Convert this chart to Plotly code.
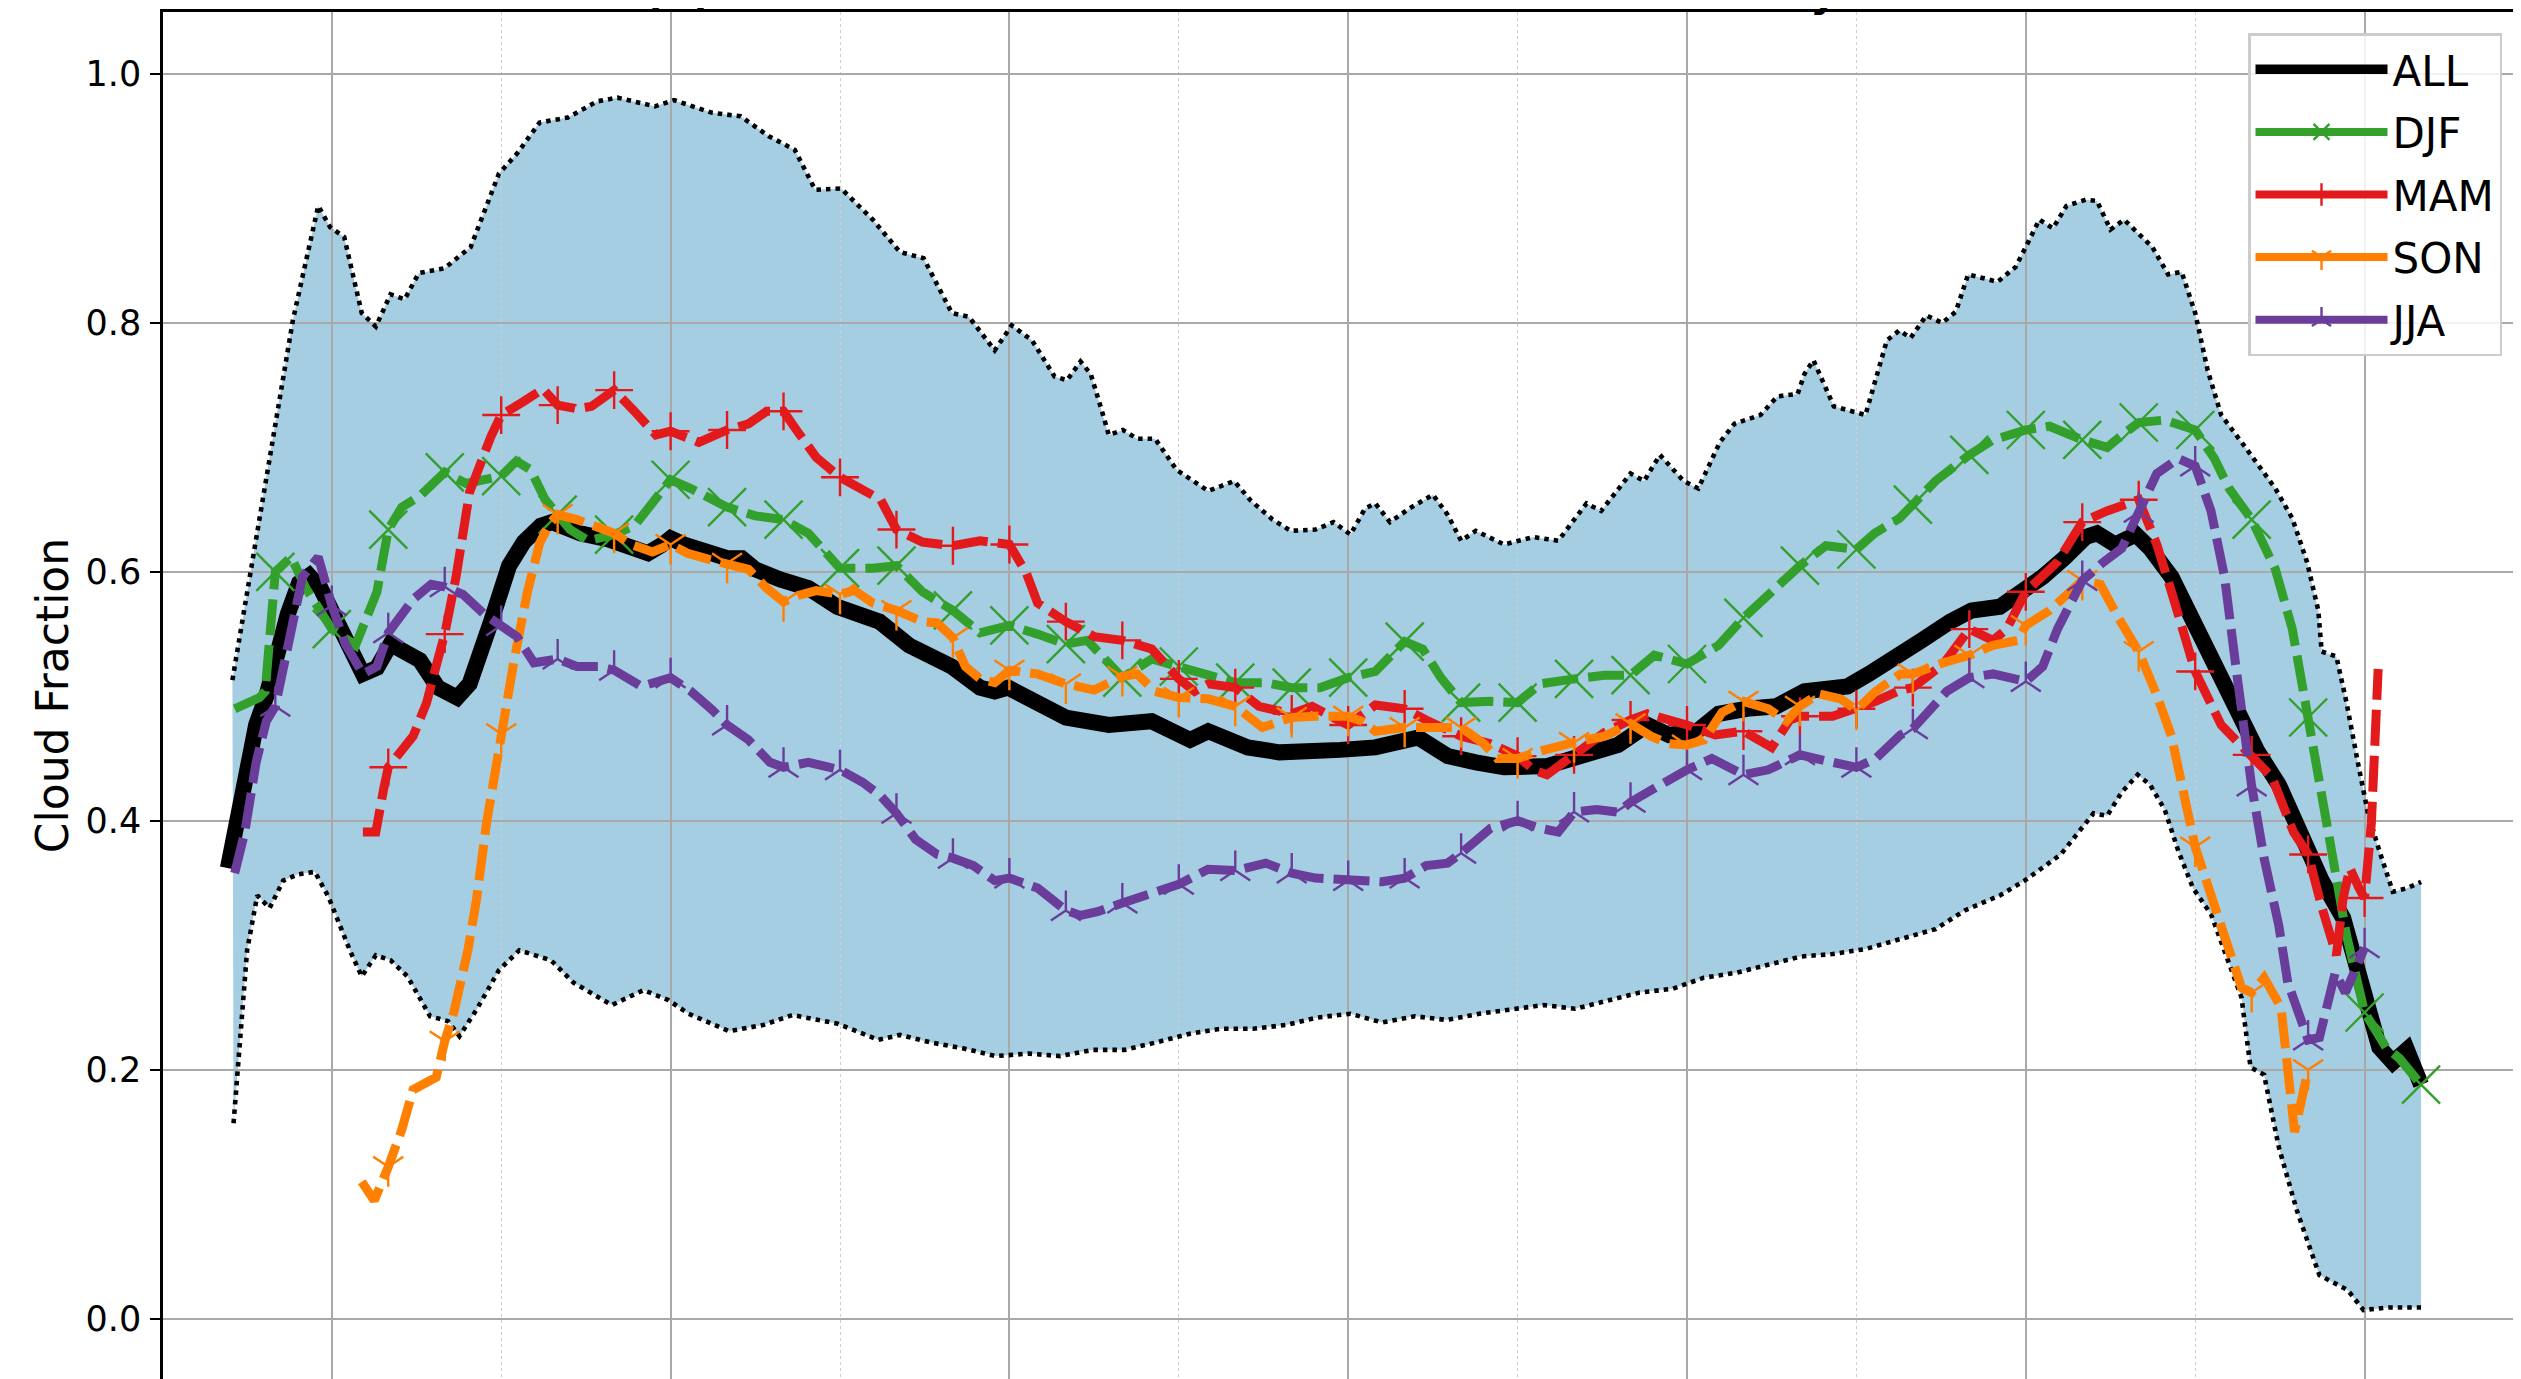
import plotly.graph_objects as go

# ---------------- data (x in axis units, y = cloud fraction) ----------------
ALL_X = [-9.2, -8.0, -6.7, -5.8, -4.8, -3.9, -2.9, -2.0, -1.0, 0.0, 1.2, 2.75, 4.0, 5.2, 7.8, 9.4, 11.1, 12.2,
         14.1, 15.7, 17.0, 18.5, 19.5, 22.0, 24.5, 26.5, 28.0, 29.3, 30.0, 31.2, 32.8, 35.0, 36.3, 37.5, 39.7,
         42.2, 44.75, 48.5, 51.1, 54.9, 57.4, 58.7, 59.9, 62.5, 65.0, 68.8, 72.6, 76.0, 77.6, 81.1, 83.9, 89.3,
         92.4, 96.2, 98.8, 101.3, 103.8, 107.6, 111.4, 113.9, 116.5, 118.4, 120.9, 122.8, 125.3, 127.9, 130.4,
         134.2, 136.1, 138.9, 140.8, 143.3, 145.2, 147.7, 149.3, 151.5, 153.4, 155.3, 156.3, 157.9, 159.75,
         161.0, 162.9, 164.8, 166.7, 168.6, 170.5, 172.4, 174.3, 176.2, 178.1, 178.9, 180.1, 181.3, 182.5,
         183.75, 185.0]
ALL_Y = [0.362, 0.426, 0.477, 0.500, 0.536, 0.566, 0.591, 0.597, 0.587, 0.569, 0.545, 0.518, 0.523, 0.542, 0.529,
         0.507, 0.499, 0.510, 0.560, 0.605, 0.624, 0.637, 0.640, 0.631, 0.626, 0.619, 0.615, 0.622, 0.627, 0.622,
         0.616, 0.611, 0.611, 0.602, 0.594, 0.587, 0.572, 0.560, 0.541, 0.524, 0.507, 0.504, 0.507, 0.496, 0.483,
         0.477, 0.480, 0.465, 0.472, 0.459, 0.455, 0.457, 0.459, 0.467, 0.452, 0.447, 0.443, 0.444, 0.456, 0.461,
         0.477, 0.469, 0.472, 0.486, 0.490, 0.492, 0.504, 0.508, 0.518, 0.532, 0.545, 0.560, 0.569, 0.572, 0.581,
         0.596, 0.611, 0.628, 0.631, 0.622, 0.630, 0.619, 0.596, 0.560, 0.524, 0.489, 0.456, 0.429, 0.391, 0.352,
         0.322, 0.298, 0.262, 0.218, 0.206, 0.216, 0.188]

DJF_X = [-8.6, -6.4, -5.9, -5.0, -3.6, -2.3, 0.0, 2.1, 4.0, 5.0, 6.2, 7.8, 10.0, 11.9, 15.0, 16.35, 17.6, 18.9,
         20.0, 21.1, 22.7, 25.0, 26.8, 28.7, 30.0, 31.8, 33.7, 35.0, 37.5, 40.0, 42.2, 45.0, 47.9, 50.0, 52.3,
         55.0, 57.4, 60.0, 62.5, 65.0, 66.9, 70.0, 72.6, 75.0, 77.6, 80.0, 82.7, 85.0, 87.5, 90.0, 92.4, 95.0,
         96.6, 98.2, 100.0, 102.6, 105.0, 107.0, 110.0, 112.7, 115.0, 117.1, 120.0, 122.8, 125.0, 127.5, 130.0,
         132.3, 135.0, 136.6, 138.8, 140.0, 142.0, 145.0, 147.1, 150.0, 152.1, 155.0, 157.2, 158.8, 160.0, 162.3,
         165.0, 166.7, 168.0, 170.0, 172.1, 173.6, 175.0, 176.2, 177.5, 178.4, 180.0, 181.9, 183.1, 185.0]
DJF_Y = [0.490, 0.499, 0.504, 0.600, 0.612, 0.587, 0.554, 0.541, 0.584, 0.634, 0.652, 0.661, 0.680, 0.671, 0.677,
         0.689, 0.682, 0.658, 0.646, 0.634, 0.625, 0.630, 0.637, 0.658, 0.674, 0.667, 0.658, 0.652, 0.645, 0.642,
         0.631, 0.603, 0.603, 0.605, 0.584, 0.569, 0.551, 0.557, 0.550, 0.542, 0.545, 0.515, 0.530, 0.524, 0.518,
         0.511, 0.511, 0.507, 0.507, 0.515, 0.520, 0.544, 0.538, 0.515, 0.495, 0.496, 0.495, 0.510, 0.514, 0.517,
         0.517, 0.533, 0.526, 0.541, 0.563, 0.584, 0.605, 0.621, 0.618, 0.631, 0.643, 0.654, 0.673, 0.694, 0.706,
         0.714, 0.717, 0.706, 0.700, 0.712, 0.720, 0.722, 0.714, 0.691, 0.667, 0.642, 0.602, 0.554, 0.483, 0.426,
         0.361, 0.308, 0.246, 0.218, 0.209, 0.188]

MAM_X = [2.75, 3.9, 4.6, 5.0, 7.2, 8.4, 9.4, 10.0, 11.0, 12.2, 14.1, 15.0, 17.0, 18.7, 20.0, 21.7, 23.0, 25.0,
         26.8, 28.7, 30.0, 32.5, 35.0, 36.9, 38.5, 40.0, 41.3, 42.9, 45.0, 47.0, 48.6, 50.0, 52.3, 55.0, 57.4,
         60.0, 61.5, 62.5, 65.0, 67.5, 70.0, 72.6, 75.0, 76.4, 77.6, 80.0, 82.1, 85.0, 86.8, 89.3, 90.0, 92.4,
         95.0, 96.9, 100.0, 102.6, 105.0, 106.4, 107.6, 110.0, 112.7, 115.0, 116.5, 120.0, 122.5, 125.0, 127.5,
         129.1, 130.0, 132.9, 135.0, 136.7, 138.9, 140.0, 142.7, 145.0, 147.1, 148.3, 150.0, 152.8, 155.0, 157.2,
         160.0, 161.6, 162.9, 165.0, 167.3, 170.0, 171.8, 173.7, 175.0, 176.2, 177.1, 177.5, 178.1, 178.7, 179.5,
         180.0, 180.6, 181.2]
MAM_Y = [0.391, 0.391, 0.426, 0.443, 0.468, 0.495, 0.530, 0.550, 0.596, 0.664, 0.709, 0.726, 0.737, 0.747, 0.734,
         0.731, 0.733, 0.746, 0.729, 0.710, 0.713, 0.704, 0.714, 0.719, 0.729, 0.729, 0.712, 0.692, 0.676, 0.667,
         0.658, 0.634, 0.624, 0.621, 0.625, 0.622, 0.599, 0.575, 0.560, 0.548, 0.545, 0.538, 0.514, 0.504, 0.510,
         0.507, 0.492, 0.486, 0.492, 0.480, 0.477, 0.493, 0.490, 0.481, 0.468, 0.462, 0.452, 0.441, 0.437, 0.453,
         0.471, 0.481, 0.486, 0.477, 0.469, 0.472, 0.459, 0.481, 0.484, 0.484, 0.490, 0.496, 0.505, 0.507, 0.526,
         0.554, 0.545, 0.554, 0.584, 0.608, 0.640, 0.649, 0.658, 0.622, 0.584, 0.520, 0.477, 0.453, 0.435, 0.391,
         0.373, 0.331, 0.305, 0.292, 0.338, 0.362, 0.346, 0.338, 0.398, 0.522]

SON_X = [2.65, 3.76, 5.0, 6.2, 7.2, 8.5, 9.25, 10.0, 10.8, 12.05, 12.8, 13.7, 15.0, 16.1, 17.3, 18.4, 19.3, 20.0,
         21.7, 23.3, 25.0, 26.5, 28.4, 30.0, 31.5, 33.4, 35.0, 36.9, 38.5, 40.0, 41.3, 42.9, 45.0, 46.3, 47.9,
         50.0, 52.3, 53.6, 55.0, 56.1, 57.4, 58.7, 60.0, 62.5, 65.0, 67.5, 70.0, 71.3, 72.9, 75.0, 77.6, 80.0,
         82.4, 85.0, 87.1, 90.0, 91.2, 92.4, 95.0, 97.2, 100.0, 102.0, 103.2, 105.0, 107.0, 110.0, 112.7, 115.0,
         116.8, 118.4, 120.0, 121.5, 123.1, 125.0, 127.2, 128.8, 130.0, 131.7, 133.6, 135.0, 136.7, 138.9, 140.0,
         142.7, 145.0, 147.1, 149.3, 150.0, 152.1, 155.0, 156.6, 158.2, 160.0, 161.6, 162.9, 165.0, 166.7, 167.7,
         169.1, 170.0, 171.1, 172.6, 173.2, 173.8, 175.0]
SON_Y = [0.110, 0.095, 0.122, 0.152, 0.184, 0.190, 0.194, 0.223, 0.246, 0.296, 0.336, 0.398, 0.470, 0.527, 0.583,
         0.623, 0.639, 0.646, 0.642, 0.637, 0.631, 0.622, 0.616, 0.622, 0.615, 0.610, 0.607, 0.602, 0.587, 0.576,
         0.581, 0.585, 0.582, 0.585, 0.575, 0.569, 0.560, 0.559, 0.547, 0.524, 0.514, 0.511, 0.521, 0.518, 0.510,
         0.505, 0.516, 0.518, 0.504, 0.499, 0.498, 0.492, 0.475, 0.483, 0.484, 0.484, 0.480, 0.472, 0.475, 0.475,
         0.475, 0.462, 0.450, 0.450, 0.456, 0.463, 0.468, 0.478, 0.468, 0.462, 0.461, 0.465, 0.487, 0.496, 0.490,
         0.480, 0.492, 0.502, 0.498, 0.489, 0.504, 0.518, 0.518, 0.527, 0.533, 0.541, 0.545, 0.557, 0.569, 0.593,
         0.590, 0.563, 0.536, 0.501, 0.468, 0.379, 0.331, 0.302, 0.266, 0.262, 0.274, 0.250, 0.194, 0.150, 0.200]

JJA_X = [-8.6, -7.7, -6.7, -5.8, -5.0, -3.9, -2.6, -1.2, 0.0, 1.2, 2.75, 4.0, 5.0, 7.2, 8.8, 10.0, 11.6, 13.5,
         15.0, 16.4, 17.9, 20.0, 21.7, 23.6, 25.0, 27.4, 30.0, 31.8, 33.7, 35.0, 36.9, 38.8, 40.0, 42.2, 45.0,
         47.0, 48.6, 50.0, 51.7, 53.6, 55.0, 56.8, 58.7, 60.0, 62.5, 63.7, 65.0, 66.3, 67.8, 70.0, 72.6, 75.0,
         77.6, 80.0, 82.7, 85.0, 87.1, 90.0, 93.0, 95.0, 96.9, 98.8, 100.0, 102.6, 105.0, 107.0, 108.6, 110.0,
         112.0, 113.9, 115.0, 117.1, 120.0, 122.2, 125.0, 127.2, 130.0, 132.9, 135.0, 136.7, 138.9, 140.0, 141.4,
         143.0, 145.0, 147.1, 150.0, 151.5, 152.8, 155.0, 156.9, 158.5, 160.0, 161.6, 163.5, 165.0, 166.4, 167.6,
         168.6, 170.0, 171.1, 172.4, 173.2, 175.0, 176.0, 177.4, 178.3, 180.0]
JJA_Y = [0.358, 0.391, 0.447, 0.480, 0.492, 0.536, 0.596, 0.612, 0.573, 0.542, 0.518, 0.524, 0.551, 0.578, 0.590,
         0.588, 0.582, 0.566, 0.557, 0.548, 0.527, 0.530, 0.524, 0.524, 0.521, 0.508, 0.515, 0.504, 0.489, 0.477,
         0.465, 0.447, 0.443, 0.447, 0.441, 0.431, 0.420, 0.406, 0.385, 0.373, 0.370, 0.364, 0.352, 0.354, 0.346,
         0.337, 0.328, 0.324, 0.327, 0.334, 0.342, 0.349, 0.361, 0.360, 0.366, 0.358, 0.354, 0.352, 0.351, 0.354,
         0.364, 0.366, 0.374, 0.394, 0.400, 0.394, 0.391, 0.407, 0.409, 0.407, 0.415, 0.426, 0.441, 0.450, 0.437,
         0.441, 0.453, 0.447, 0.443, 0.450, 0.469, 0.474, 0.489, 0.504, 0.515, 0.518, 0.512, 0.524, 0.554, 0.593,
         0.608, 0.619, 0.648, 0.679, 0.691, 0.685, 0.649, 0.596, 0.524, 0.428, 0.370, 0.316, 0.270, 0.224, 0.226,
         0.278, 0.262, 0.298]

UPPER_X = [-8.8, -6.6, -4.6, -3.45, -1.2, -0.15, 1.1, 2.65, 3.9, 5.2, 6.45, 7.7, 10.0, 12.3, 14.8, 16.4, 18.4,
           20.9, 23.5, 25.3, 28.6, 30.3, 33.6, 36.2, 38.7, 41.0, 42.8, 45.1, 47.9, 50.3, 52.4, 54.9, 56.4, 58.7,
           60.2, 62.0, 64.0, 65.1, 66.3, 67.2, 68.2, 68.8, 70.05, 71.3, 72.9, 74.8, 77.6, 79.9, 81.4, 83.3, 84.9,
           87.1, 88.7, 90.2, 91.5, 92.4, 93.7, 95.6, 97.5, 98.8, 100.0, 101.3, 103.8, 106.4, 108.6, 111.1, 112.4,
           115.0, 116.2, 117.6, 119.7, 121.0, 122.9, 124.2, 126.5, 128.0, 129.8, 130.4, 131.2, 133.0, 135.8,
           137.7, 138.8, 139.8, 141.2, 142.6, 143.8, 144.9, 147.5, 149.1, 150.0, 151.2, 152.4, 153.6, 155.3,
           156.3, 157.5, 158.7, 161.2, 162.6, 163.8, 165.0, 166.1, 167.3, 169.2, 172.1, 173.6, 174.9, 175.9,
           176.2, 177.5, 178.4, 179.4, 180.3, 181.3, 182.5, 183.8, 185.0]
UPPER_Y = [0.513, 0.634, 0.742, 0.802, 0.894, 0.877, 0.869, 0.808, 0.797, 0.823, 0.819, 0.840, 0.844, 0.861,
           0.920, 0.936, 0.961, 0.965, 0.978, 0.981, 0.974, 0.979, 0.969, 0.966, 0.950, 0.939, 0.907, 0.908,
           0.883, 0.857, 0.852, 0.808, 0.805, 0.778, 0.798, 0.786, 0.757, 0.754, 0.769, 0.759, 0.729, 0.710,
           0.714, 0.707, 0.707, 0.682, 0.665, 0.673, 0.657, 0.642, 0.633, 0.634, 0.640, 0.630, 0.651, 0.655,
           0.640, 0.652, 0.662, 0.646, 0.625, 0.633, 0.622, 0.628, 0.625, 0.655, 0.649, 0.679, 0.673, 0.694,
           0.673, 0.667, 0.704, 0.719, 0.726, 0.741, 0.743, 0.759, 0.770, 0.733, 0.726, 0.786, 0.794, 0.788,
           0.806, 0.800, 0.809, 0.839, 0.833, 0.845, 0.861, 0.883, 0.876, 0.894, 0.899, 0.898, 0.875, 0.883,
           0.861, 0.839, 0.841, 0.808, 0.762, 0.726, 0.703, 0.667, 0.643, 0.608, 0.569, 0.536, 0.532, 0.495,
           0.447, 0.406, 0.376, 0.343, 0.346, 0.351]

LOWER_X = [-8.7, -7.5, -6.6, -5.5, -4.3, -3.0, -1.5, -0.3, 1.6, 2.65, 3.9, 5.2, 6.7, 8.7, 10.3, 11.3, 12.8,
           14.8, 16.6, 18.4, 19.4, 21.4, 24.8, 27.6, 29.8, 31.6, 35.2, 38.2, 40.8, 44.8, 48.4, 50.3, 53.0, 56.0,
           58.8, 61.7, 64.5, 67.4, 70.2, 73.0, 76.0, 78.8, 81.6, 84.5, 87.3, 90.2, 93.0, 95.9, 98.7, 101.6,
           104.4, 107.3, 110.1, 113.0, 115.8, 118.7, 121.5, 124.4, 127.2, 130.1, 132.9, 135.8, 138.9, 142.0,
           144.6, 147.7, 149.9, 153.1, 156.0, 157.2, 158.5, 159.9, 161.0, 162.3, 163.5, 164.8, 166.4, 167.6,
           169.1, 169.9, 171.1, 172.4, 174.0, 176.0, 178.5, 179.9, 182.1, 185.0]
LOWER_Y = [0.157, 0.296, 0.340, 0.330, 0.352, 0.357, 0.359, 0.339, 0.296, 0.275, 0.292, 0.288, 0.275, 0.243,
           0.239, 0.227, 0.248, 0.280, 0.296, 0.291, 0.288, 0.270, 0.252, 0.264, 0.256, 0.245, 0.231, 0.236,
           0.244, 0.237, 0.224, 0.228, 0.222, 0.217, 0.211, 0.213, 0.211, 0.216, 0.216, 0.222, 0.229, 0.233,
           0.233, 0.236, 0.242, 0.245, 0.238, 0.243, 0.240, 0.245, 0.248, 0.252, 0.249, 0.256, 0.262, 0.265,
           0.274, 0.278, 0.284, 0.291, 0.293, 0.297, 0.305, 0.313, 0.328, 0.340, 0.352, 0.373, 0.406, 0.404,
           0.423, 0.437, 0.429, 0.409, 0.376, 0.346, 0.325, 0.296, 0.258, 0.202, 0.196, 0.138, 0.087, 0.035,
           0.023, 0.007, 0.009, 0.009]

Y_TICKS = [0.0, 0.2, 0.4, 0.6, 0.8, 1.0]
Y_TICK_TEXT = ["0.0", "0.2", "0.4", "0.6", "0.8", "1.0"]
Y_LABEL = "Cloud Fraction"
TITLE = "(a) Cloud Fraction: Seasonal Mean and Variability across the Domain"
MARKER_STEP = 5

# ---------------- styles / geometry ----------------
FONT = "DejaVu Sans"
BAND_COLOR = "#a6cee3"
SEASONS = [
    ("DJF", DJF_X, DJF_Y, "#33a02c", "x-thin", 38),
    ("MAM", MAM_X, MAM_Y, "#e31a1c", "cross-thin", 27),
    ("SON", SON_X, SON_Y, "#ff7f00", "y-down", 25),
    ("JJA", JJA_X, JJA_Y, "#6a3d9a", "y-up", 25),
]
OFF = 8                      # default page margin of the html body
PAGE_W, PAGE_H = 2521, 1379
W, H = PAGE_W - OFF, PAGE_H - OFF
PL, PT = 163, 12             # plot-area left / top on the page
ML, MT = PL - OFF, PT - OFF
PX_PER_X = 11.2933
X0_PAGE = 331.8
PX_PER_Y = 1244.7
Y0_PAGE = 1318.7
X_RANGE = [(PL - X0_PAGE) / PX_PER_X, (PAGE_W - X0_PAGE) / PX_PER_X]
Y_RANGE = [(Y0_PAGE - PAGE_H) / PX_PER_Y, (Y0_PAGE - PT) / PX_PER_Y]
PW, PH = W - ML, H - MT

fig = go.Figure()

# shaded band (bottom subplot, beneath the grid of the top subplot)
fig.add_trace(go.Scatter(x=LOWER_X, y=LOWER_Y, mode="lines", line=dict(width=0, color=BAND_COLOR),
                         showlegend=False, hoverinfo="skip", xaxis="x", yaxis="y"))
fig.add_trace(go.Scatter(x=UPPER_X, y=UPPER_Y, mode="lines", line=dict(width=0, color=BAND_COLOR),
                         fill="tonexty", fillcolor=BAND_COLOR, showlegend=False, hoverinfo="skip",
                         xaxis="x", yaxis="y"))

# dotted envelope lines
for bx, by in ((UPPER_X, UPPER_Y), (LOWER_X, LOWER_Y)):
    fig.add_trace(go.Scatter(x=bx, y=by, mode="lines", line=dict(color="black", width=4.6, dash="4.5px,5px"),
                             showlegend=False, hoverinfo="skip", xaxis="x2", yaxis="y2"))

# ALL
fig.add_trace(go.Scatter(x=ALL_X, y=ALL_Y, mode="lines", line=dict(color="black", width=16),
                         showlegend=False, xaxis="x2", yaxis="y2"))


def is_marker(v):
    q = v / MARKER_STEP
    return abs(q - round(q)) < 1e-6


for name, sx, sy, col, sym, msz in SEASONS:
    fig.add_trace(go.Scatter(x=sx, y=sy, mode="lines", line=dict(color=col, width=9, dash="36px,10px"),
                             showlegend=False, xaxis="x2", yaxis="y2"))
    mx = [a for a in sx if is_marker(a)]
    my = [b for a, b in zip(sx, sy) if is_marker(a)]
    fig.add_trace(go.Scatter(x=mx, y=my, mode="markers",
                             marker=dict(symbol=sym, size=msz, color=col, line=dict(color=col, width=2.4)),
                             showlegend=False, xaxis="x2", yaxis="y2"))

# legend entries
fig.add_trace(go.Scatter(x=[None], y=[None], mode="lines", name="ALL", legendgroup="ALL",
                         line=dict(color="black", width=9.5), xaxis="x2", yaxis="y2"))
for name, sx, sy, col, sym, msz in SEASONS:
    fig.add_trace(go.Scatter(x=[None], y=[None], mode="lines+markers", name=name, legendgroup=name,
                             line=dict(color=col, width=8),
                             marker=dict(symbol=sym, size=msz, color=col, line=dict(color=col, width=2.4)),
                             xaxis="x2", yaxis="y2"))

grid_major = "#a9a9a9"
fig.update_layout(
    width=W, height=H,
    margin=dict(l=ML, r=0, t=MT, b=0, pad=0, autoexpand=False),
    paper_bgcolor="white", plot_bgcolor="rgba(0,0,0,0)",
    font=dict(family=FONT, color="black"),
    showlegend=True,
    xaxis=dict(domain=[0, 1], range=X_RANGE, anchor="y", visible=False, showgrid=False, zeroline=False),
    yaxis=dict(domain=[0, 1], range=Y_RANGE, anchor="x", visible=False, showgrid=False, zeroline=False),
    xaxis2=dict(domain=[0, 1], range=X_RANGE, anchor="y2", side="top", showline=True, linecolor="black",
                linewidth=2.5, showticklabels=False, ticks="", zeroline=False,
                showgrid=True, gridcolor=grid_major, gridwidth=1.6, tick0=0, dtick=30,
                minor=dict(tick0=0, dtick=15, showgrid=True, gridcolor="#cfcfcf", griddash="dot", gridwidth=1.2)),
    yaxis2=dict(domain=[0, 1], range=Y_RANGE, anchor="x2", side="left", showline=True, linecolor="black",
                linewidth=2.5, ticks="outside", ticklen=10, tickwidth=2, tickcolor="black",
                tickvals=Y_TICKS, ticktext=Y_TICK_TEXT, tickfont=dict(size=35, family=FONT, color="black"),
                ticklabelstandoff=2, zeroline=False,
                showgrid=True, gridcolor=grid_major, gridwidth=1.6,
                title=dict(text=Y_LABEL, font=dict(size=44, family=FONT, color="black"), standoff=4)),
    legend=dict(x=(2248 - OFF - ML) / PW, y=1 - (33 - OFF - MT) / PH, xanchor="left", yanchor="top",
                bgcolor="rgba(255,255,255,0.85)", bordercolor="#cccccc", borderwidth=2.5,
                font=dict(size=42, family=FONT, color="black"), itemwidth=132, tracegroupgap=5,
                traceorder="grouped"),
    annotations=[dict(text="<b>" + TITLE + "</b>", xref="paper", yref="paper",
                      x=(642 - OFF - ML) / PW, y=1, xanchor="left", yanchor="bottom", yshift=-6,
                      showarrow=False, font=dict(size=42.8, family=FONT, color="black"))],
)

fig.write_html("out.html")
